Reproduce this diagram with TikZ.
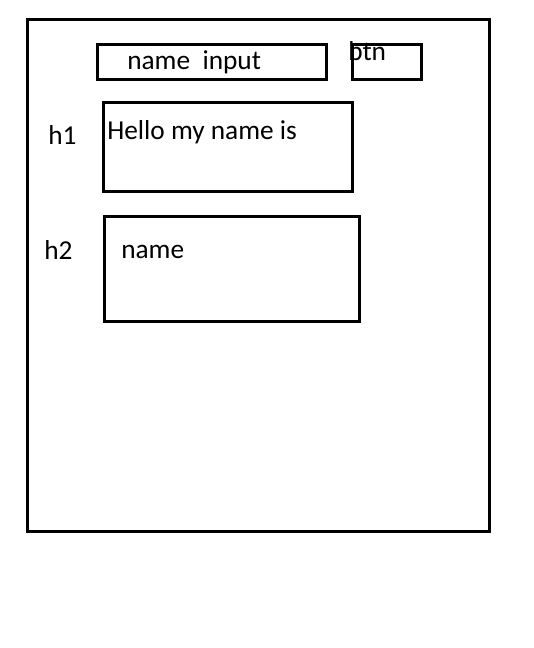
\documentclass[tikz,border=0pt]{standalone}
\usepackage{fontspec}
\setmainfont{Carlito}
\usepackage{tikz}
\usetikzlibrary{positioning}
\tikzset{
	x=0.75pt, y=-0.75pt, % one unit is one pixel of the sketch
	box/.style={draw, line width=2.25pt, rectangle, inner sep=0pt}, % the drawn frames
	label/.style={inner sep=0pt, anchor=base west, font=\fontsize{20.5}{24}\selectfont}, % texts
}
\begin{document}
\begin{tikzpicture}
	\useasboundingbox (0,0) rectangle (533,648);
	% frames
	\node[box, minimum width=346.5pt, minimum height=383.25pt] (page) at (258,275.5) {};
	\node[box, minimum width=171.4pt, minimum height=26.25pt] (input) at (211.75,62) {};
	\node[box, minimum width=51.4pt, minimum height=26.6pt] (btn) at (386.75,62.25) {};
	\node[box, minimum width=186.4pt, minimum height=67.1pt] (hone) at (228.25,146.75) {};
	\node[box, minimum width=191.25pt, minimum height=78.75pt] (htwo) at (232,269) {};
	% texts
	\node[label] (inputtext) at (127,70) {name\ \ input};
	\node[label] (btntext) at (348,61) {btn};
	\node[label] (honetag) at (48,145) {h1};
	\node[label] (honetext) at (107,140) {Hello my name is};
	\node[label] (htwotag) at (44,259) {h2};
	\node[label] (htwotext) at (121,258) {name};
\end{tikzpicture}
\end{document}
